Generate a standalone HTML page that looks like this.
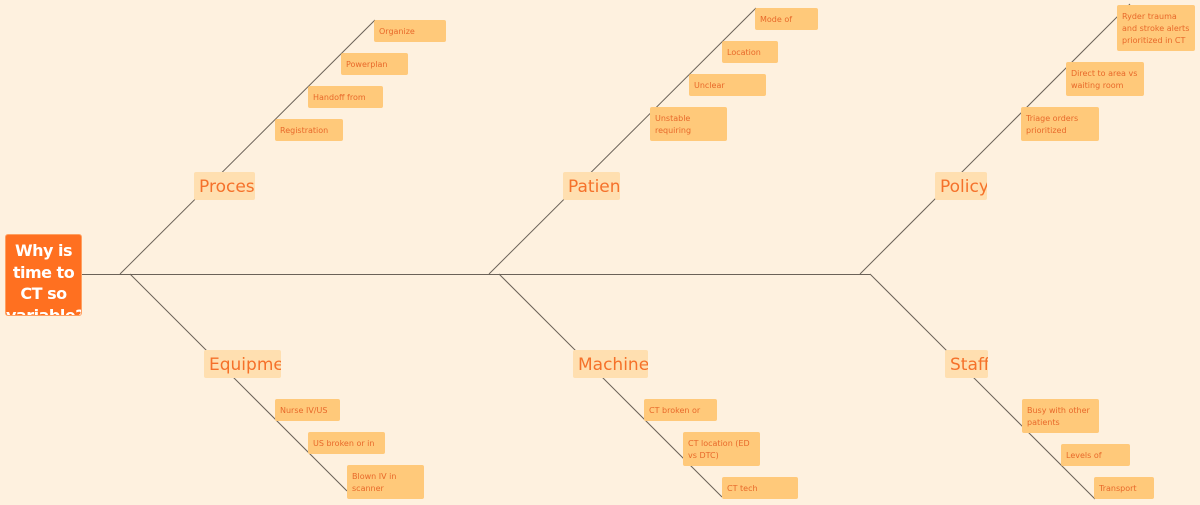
<!DOCTYPE html>
<html><head><meta charset="utf-8"><style>
body{margin:0;width:1200px;height:505px;background:#fef1df;position:relative;overflow:hidden;font-family:"DejaVu Sans","Liberation Sans",sans-serif}
svg{position:absolute;left:0;top:0}
.b{position:absolute;box-sizing:border-box;overflow:hidden;border-radius:2px}
.c{background:#ffdfb0;color:#f5712a;font-size:17px;line-height:31px;padding-left:5px;white-space:nowrap}
.l{background:#ffc97a;color:#e8692a;font-size:8px;line-height:12px;padding:6px 5px 5px}
.r{background:#ff7020;color:#fff;font-weight:bold;font-size:16px;line-height:21.5px;text-align:center;padding-top:5px;border:1px solid #ffa060;border-radius:3px;letter-spacing:-0.5px}
</style></head><body>
<svg width="1200" height="505">
<g stroke="#6b6258" stroke-width="1" fill="none">
<line x1="82" y1="274.5" x2="870" y2="274.5"/>
<line x1="120" y1="274" x2="375" y2="20"/>
<line x1="489" y1="274" x2="756" y2="8"/>
<line x1="860" y1="274" x2="1130" y2="4"/>
<line x1="130" y1="274" x2="347" y2="491"/>
<line x1="499" y1="274" x2="722" y2="497"/>
<line x1="870" y1="274" x2="1095" y2="499"/>
</g></svg>
<div class="b r" style="left:5px;top:234px;width:77px;height:82px">Why is time to CT so variable?</div>
<div class="b c" style="left:194px;top:172px;width:61px;height:28px">Process</div>
<div class="b c" style="left:563px;top:172px;width:57px;height:28px">Patient</div>
<div class="b c" style="left:935px;top:172px;width:52px;height:28px">Policy</div>
<div class="b c" style="left:204px;top:350px;width:77px;height:28px">Equipment</div>
<div class="b c" style="left:573px;top:350px;width:75px;height:28px">Machines</div>
<div class="b c" style="left:945px;top:350px;width:43px;height:28px">Staff</div>
<div class="b l" style="left:374px;top:20px;width:72px;height:22px">Organize</div>
<div class="b l" style="left:341px;top:53px;width:67px;height:22px">Powerplan</div>
<div class="b l" style="left:308px;top:86px;width:75px;height:22px">Handoff from</div>
<div class="b l" style="left:275px;top:119px;width:68px;height:22px">Registration</div>
<div class="b l" style="left:755px;top:8px;width:63px;height:22px">Mode of</div>
<div class="b l" style="left:722px;top:41px;width:56px;height:22px">Location</div>
<div class="b l" style="left:689px;top:74px;width:77px;height:22px">Unclear</div>
<div class="b l" style="left:650px;top:107px;width:77px;height:34px">Unstable requiring</div>
<div class="b l" style="left:1117px;top:5px;width:78px;height:46px">Ryder trauma and stroke alerts prioritized in CT</div>
<div class="b l" style="left:1066px;top:62px;width:78px;height:34px">Direct to area vs waiting room</div>
<div class="b l" style="left:1021px;top:107px;width:78px;height:34px">Triage orders prioritized</div>
<div class="b l" style="left:275px;top:399px;width:65px;height:22px">Nurse IV/US</div>
<div class="b l" style="left:308px;top:432px;width:77px;height:22px">US broken or in</div>
<div class="b l" style="left:347px;top:465px;width:77px;height:34px">Blown IV in scanner</div>
<div class="b l" style="left:644px;top:399px;width:73px;height:22px">CT broken or</div>
<div class="b l" style="left:683px;top:432px;width:77px;height:34px">CT location (ED vs DTC)</div>
<div class="b l" style="left:722px;top:477px;width:76px;height:22px">CT tech</div>
<div class="b l" style="left:1022px;top:399px;width:77px;height:34px">Busy with other patients</div>
<div class="b l" style="left:1061px;top:444px;width:69px;height:22px">Levels of</div>
<div class="b l" style="left:1094px;top:477px;width:60px;height:22px">Transport</div>
</body></html>
